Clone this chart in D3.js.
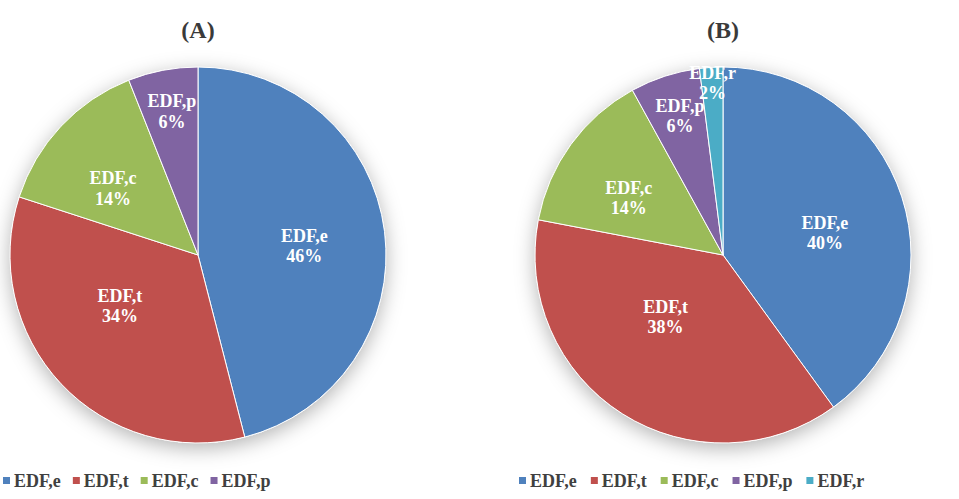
<!DOCTYPE html>
<html><head><meta charset="utf-8">
<script src="https://cdn.jsdelivr.net/npm/d3@7"></script>
<style>body{margin:0;background:#fff}svg{display:block}</style>
</head><body>
<svg id="chart" width="959" height="499"></svg>
<script>
const categoriesA = ["EDF,e","EDF,t","EDF,c","EDF,p"];
const valuesA = [46,34,14,6];
const categoriesB = ["EDF,e","EDF,t","EDF,c","EDF,p","EDF,r"];
const valuesB = [40,38,14,6,2];
const titles = ["(A)","(B)"];
const colors = ["#4F81BD","#C0504D","#9BBB59","#8064A2","#4BACC6"];

const svg = d3.select("#chart");
const defs = svg.append("defs");
const f = defs.append("filter").attr("id","sh").attr("x","-20%").attr("y","-20%").attr("width","140%").attr("height","140%");
f.append("feDropShadow").attr("dx",0).attr("dy",5).attr("stdDeviation",10).attr("flood-color","#000").attr("flood-opacity",0.3);

const R = 188;
const font = "Liberation Serif, Times New Roman, DejaVu Serif, serif";

function drawPie(cx, cy, cats, vals, title, legendX, legendGaps) {
  const g = svg.append("g").attr("transform",`translate(${cx},${cy})`);
  const pie = d3.pie().sort(null).value(d=>d)(vals);
  const arc = d3.arc().innerRadius(0).outerRadius(R);
  g.append("circle").attr("r",R).attr("fill","#fff").attr("filter","url(#sh)");
  g.selectAll("path.s").data(pie).join("path").attr("class","s")
    .attr("d",arc).attr("fill",(d,i)=>colors[i]).attr("stroke","#fff").attr("stroke-width",1);
  const total = d3.sum(vals);
  const lab = g.selectAll("text.l").data(pie).join("text").attr("class","l")
    .attr("transform",d=>{
      const v = d.value/total;
      let fx, fy;
      if (v < 0.1) { fx = 0.6 + 3.5*(0.1 - v); fy = 0.64 + 3.5*(0.1 - v); }
      else if (v < 0.25) { fx = 0.62; fy = 0.52; }
      else { fx = 0.57; fy = 0.39; }
      const a = (d.startAngle + d.endAngle)/2;
      return `translate(${Math.sin(a)*R*fx},${-Math.cos(a)*R*fy})`;
    })
    .attr("text-anchor","middle").attr("fill","#fff")
    .attr("font-family",font).attr("font-weight","bold").attr("font-size","18px");
  lab.append("tspan").attr("x",0).attr("dy","-0.2em").text((d,i)=>cats[i]);
  lab.append("tspan").attr("x",0).attr("dy","1.12em").text(d=>Math.round(d.value/total*100)+"%");
  svg.append("text").attr("x",cx).attr("y",38).attr("text-anchor","middle")
    .attr("fill","#3a3a3a").attr("font-family",font).attr("font-weight","bold").attr("font-size","24px").text(title);
  // legend
  const lg = svg.append("g").attr("transform",`translate(${legendX},487)`);
  let x = 0;
  cats.forEach((c,i)=>{
    lg.append("rect").attr("x",x).attr("y",-10).attr("width",7).attr("height",7).attr("fill",colors[i]);
    const t = lg.append("text").attr("x",x+11).attr("y",0).attr("fill","#404040")
      .attr("font-family",font).attr("font-weight","bold").attr("font-size","18px").text(c);
    x += t.node().getComputedTextLength() + 11 + legendGaps;
  });
}

drawPie(198, 255, categoriesA, valuesA, titles[0], 3, 12);
drawPie(723, 255, categoriesB, valuesB, titles[1], 519, 14);
</script>
</body></html>
